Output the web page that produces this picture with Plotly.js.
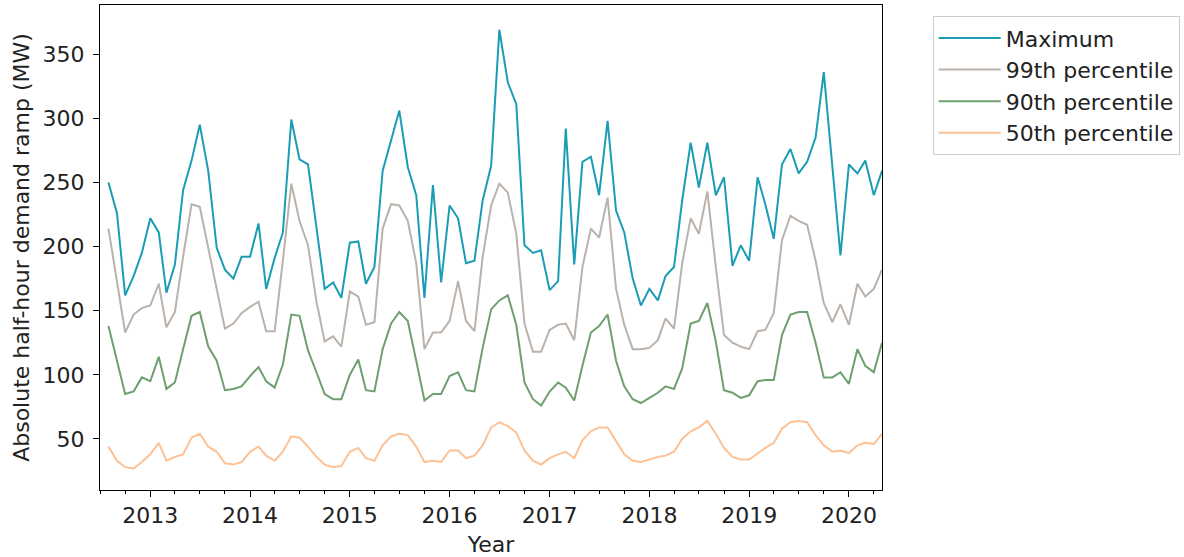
<!DOCTYPE html>
<html>
<head>
<meta charset="utf-8">
<script src="https://cdn.plot.ly/plotly-3.0.1.min.js"></script>
<style>
  html, body { margin: 0; padding: 0; background: #ffffff; }
  #chart { width: 1184px; height: 557px; }
</style>
</head>
<body>
<div id="chart"></div>
<script>
// Monthly series, August 2012 to May 2020 (MW)
const firstMonth = [2012, 8];
const monthCount = 94;

const maximum = [
  250, 226, 162, 177, 195, 222, 211, 164, 186, 244, 267, 295,
  259, 199, 182, 175, 192, 192, 218, 167, 191, 211, 299, 268,
  264, 213, 167, 172, 160, 203, 204, 171, 184, 259, 282, 306,
  262, 240, 160, 248, 172, 232, 222, 187, 189, 236, 263, 369,
  328, 311, 201, 195, 197, 166, 173, 292, 186, 266, 270, 240,
  298, 228, 211, 175, 154, 167, 158, 177, 184, 236, 281, 246,
  281, 240, 254, 185, 201, 189, 254, 233, 206, 264, 276, 257,
  266, 285, 336, 265, 193, 264, 257, 267, 240, 259
];

const p99 = [
  214, 174, 133, 147, 152, 154, 171, 137, 149, 192, 233, 231,
  199, 166, 136, 140, 148, 153, 157, 134, 134, 189, 249, 220,
  201, 157, 126, 130, 122, 165, 161, 139, 141, 214, 233, 232,
  220, 187, 120, 133, 133, 142, 173, 142, 134, 192, 232, 249,
  242, 210, 140, 118, 118, 135, 139, 140, 127, 184, 214, 207,
  238, 167, 139, 120, 120, 121, 127, 144, 136, 187, 222, 210,
  243, 184, 131, 125, 122, 120, 134, 135, 148, 205, 224, 220,
  217, 189, 156, 141, 155, 139, 171, 161, 167, 182
];

const p90 = [
  138, 111, 85, 87, 98, 95, 114, 89, 94, 120, 146, 149,
  122, 111, 88, 89, 91, 99, 106, 95, 90, 108, 147, 146,
  119, 102, 85, 81, 81, 100, 112, 88, 87, 120, 140, 149,
  142, 111, 80, 85, 85, 99, 102, 88, 87, 121, 151, 158,
  162, 139, 94, 81, 76, 87, 94, 90, 80, 107, 133, 138,
  147, 111, 91, 81, 78, 82, 86, 91, 89, 105, 140, 142,
  156, 126, 88, 86, 82, 84, 95, 96, 96, 131, 147, 149,
  149, 125, 98, 98, 102, 93, 120, 107, 102, 125
];

const p50 = [
  44, 33, 28, 27, 32, 38, 47, 33, 36, 38, 51, 54,
  44, 40, 31, 30, 32, 40, 44, 37, 33, 40, 52, 51,
  44, 36, 30, 28, 29, 40, 43, 35, 33, 45, 52, 54,
  53, 44, 32, 33, 32, 41, 41, 35, 37, 45, 59, 63,
  60, 55, 41, 33, 30, 35, 38, 40, 35, 49, 56, 59,
  59, 48, 38, 33, 32, 34, 36, 37, 40, 50, 56, 59,
  64, 54, 43, 36, 34, 34, 39, 43, 47, 58, 63, 64,
  63, 53, 45, 40, 41, 39, 45, 47, 46, 54
];

const seriesNames = ['Maximum', '99th percentile', '90th percentile', '50th percentile'];
const seriesColors = ['#1a9db4', '#bab2ab', '#6e9f70', '#fcc195'];
const tickYears = ['2013', '2014', '2015', '2016', '2017', '2018', '2019', '2020'];
const yTicks = [50, 100, 150, 200, 250, 300, 350];

// First-of-month date strings for the x axis
const months = [];
for (let k = 0; k < monthCount; k++) {
  const m = firstMonth[1] - 1 + k;
  const y = firstMonth[0] + Math.floor(m / 12);
  const mm = (m % 12) + 1;
  months.push(y + '-' + String(mm).padStart(2, '0') + '-01');
}

const values = [maximum, p99, p90, p50];
const traces = values.map((v, k) => ({
  type: 'scatter',
  mode: 'lines',
  x: months,
  y: v,
  name: seriesNames[k],
  line: { color: seriesColors[k], width: 2 }
}));

const font = { family: 'DejaVu Sans, sans-serif', color: '#222222' };
const sized = s => Object.assign({ size: s }, font);

const layout = {
  width: 1184,
  height: 557,
  margin: { l: 100, r: 301, t: 5, b: 67 },
  paper_bgcolor: '#ffffff',
  plot_bgcolor: '#ffffff',
  font: sized(22),
  showlegend: true,
  legend: {
    x: 1.0635, y: 0.977, xanchor: 'left', yanchor: 'top',
    bordercolor: '#cccccc', borderwidth: 1,
    bgcolor: '#ffffff',
    font: sized(22),
    itemwidth: 62
  },
  xaxis: {
    type: 'date',
    range: ['2012-07-01', '2020-05-01'],
    tickvals: tickYears.map(y => y + '-01-01'),
    ticktext: tickYears,
    ticks: 'outside', ticklen: 6, tickwidth: 1, tickcolor: '#000000',
    minor: { dtick: 'M3', tick0: '2013-01-01', ticks: 'outside', ticklen: 3, tickwidth: 1, tickcolor: '#000000', showgrid: false },
    showline: true, linecolor: '#000000', linewidth: 1, mirror: true,
    showgrid: false, zeroline: false,
    tickfont: sized(22),
    title: { text: 'Year', font: sized(22), standoff: 9 }
  },
  yaxis: {
    range: [10.2, 388.3],
    tickvals: yTicks,
    ticks: 'outside', ticklen: 6, tickwidth: 1, tickcolor: '#000000',
    showline: true, linecolor: '#000000', linewidth: 1, mirror: true,
    showgrid: false, zeroline: false,
    tickfont: sized(22),
    ticklabelstandoff: 4,
    title: { text: 'Absolute half-hour demand ramp (MW)', font: sized(22), standoff: 6 }
  }
};

Plotly.newPlot('chart', traces, layout, { displayModeBar: false, staticPlot: true });
</script>
</body>
</html>
